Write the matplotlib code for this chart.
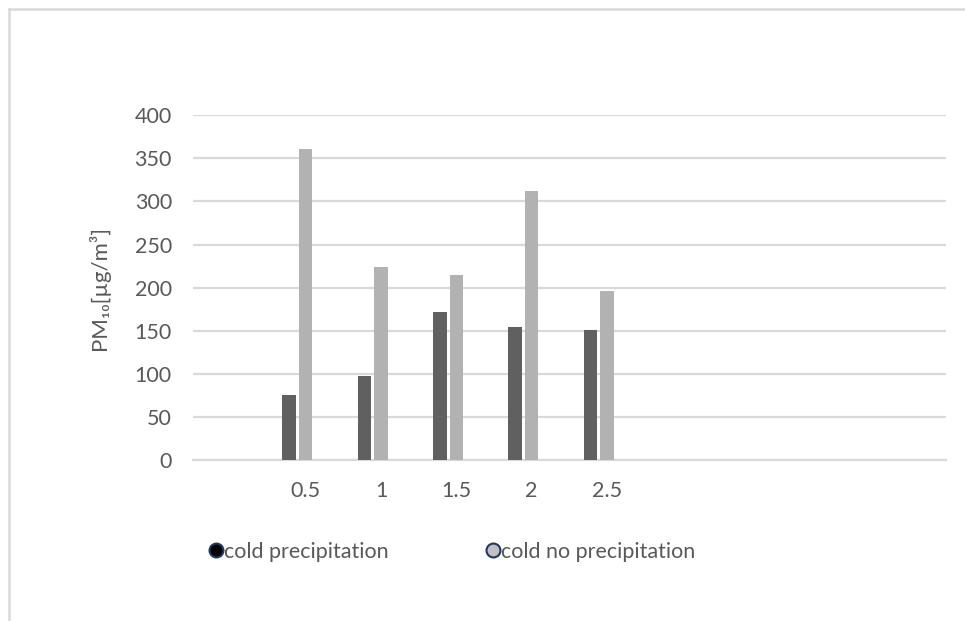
import numpy as np
import matplotlib
matplotlib.use("Agg")
import matplotlib.pyplot as plt
from matplotlib.lines import Line2D

plt.rcParams['font.family'] = ['Lato', 'DejaVu Sans']

categories = ['', '0.5', '1', '1.5', '2', '2.5', '', '', '', '']
cold_precipitation = [np.nan, 75, 98, 172, 154, 151, np.nan, np.nan, np.nan, np.nan]
cold_no_precipitation = [np.nan, 361, 224, 215, 312, 196, np.nan, np.nan, np.nan, np.nan]
series_names = ['cold precipitation', 'cold no precipitation']
yticks = [0, 50, 100, 150, 200, 250, 300, 350, 400]

W, H = 965, 621
fig = plt.figure(figsize=(W / 100, H / 100), dpi=100)
ax = fig.add_axes([192.7 / W, 1 - 460 / H, (946 - 192.7) / W, (460 - 115.3) / H])

x = np.arange(len(categories))
bw = 0.18
ax.bar(x - 0.22, cold_precipitation, width=bw, color='#606060', zorder=3)
ax.bar(x, cold_no_precipitation, width=bw, color='#b2b2b2', zorder=3)

ax.set_xlim(-0.5, len(categories) - 0.5)
ax.set_ylim(0, 400)
ax.set_yticks(yticks)
ax.set_xticks(x)
ax.set_xticklabels(categories)
ax.yaxis.grid(True, color='#d9d9d9', linewidth=1.6, zorder=0)
ax.set_axisbelow(True)
for s in ['top', 'right', 'left']:
    ax.spines[s].set_visible(False)
ax.spines['bottom'].set_color('#d9d9d9')
ax.spines['bottom'].set_linewidth(1.6)
ax.tick_params(axis='both', length=0, labelsize=15.5, labelcolor='#595959')
ax.tick_params(axis='y', pad=15)
ax.tick_params(axis='x', pad=15)
ax.set_ylabel('PM₁₀[µg/m³]', fontsize=16, color='#595959')
ax.yaxis.set_label_coords((110 - 192.7) / (946 - 192.7), 0.5)

# outer chart border
fig.add_artist(Line2D([9 / W, 9 / W], [0, 1 - 9 / H], transform=fig.transFigure,
                      color='#d9d9d9', linewidth=1.8))
fig.add_artist(Line2D([9 / W, 1], [1 - 9 / H, 1 - 9 / H], transform=fig.transFigure,
                      color='#d9d9d9', linewidth=1.8))

handles = [
    Line2D([], [], linestyle='none', marker='o', markersize=10,
           markerfacecolor='#000000', markeredgecolor='#1f3864', markeredgewidth=1.5),
    Line2D([], [], linestyle='none', marker='o', markersize=10,
           markerfacecolor='#c0c0c0', markeredgecolor='#1f3864', markeredgewidth=1.5),
]
leg = fig.legend(handles, series_names, loc='center left',
                 bbox_to_anchor=(210 / W, 1 - 552 / H), ncol=2, frameon=False,
                 fontsize=15.5, handlelength=0.6, handletextpad=0.05,
                 columnspacing=4.55, borderpad=0, borderaxespad=0)
for t in leg.get_texts():
    t.set_color('#595959')

fig.savefig('out.png', dpi=100)
